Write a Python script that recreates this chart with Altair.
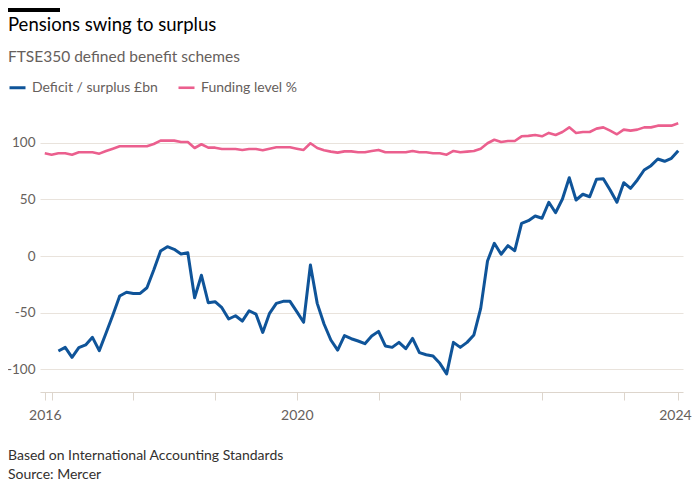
import altair as alt
import pandas as pd

# ---------------- data ----------------
period_index = list(range(94))

deficit_surplus_bn = [
    None, None, -83.8, -80.6, -89.4, -80.9, -78.5, -71.8, -83.5, -68.0,
    -52.0, -35.3, -32.0, -33.0, -33.0, -28.0, -12.4, 4.4, 8.2, 5.9,
    1.8, 2.9, -36.8, -17.0, -41.2, -40.3, -45.6, -55.6, -52.7, -57.4,
    -48.3, -51.2, -67.4, -50.6, -41.8, -40.0, -40.0, -49.1, -58.5, -7.9,
    -41.8, -60.0, -74.1, -83.0, -70.3, -73.0, -75.0, -77.4, -70.6, -66.5,
    -79.4, -80.6, -76.2, -81.8, -72.7, -85.3, -87.1, -88.3, -94.7, -104.0,
    -76.2, -80.6, -76.2, -69.7, -46.2, -4.4, 11.2, 1.5, 9.1, 4.7,
    28.8, 31.2, 35.3, 33.3, 47.4, 38.2, 50.3, 69.1, 49.4, 54.5,
    52.3, 67.7, 68.2, 58.3, 47.4, 64.7, 59.7, 67.1, 75.9, 79.7,
    85.6, 83.6, 86.2, 92.9,
]

funding_level_pct = [
    90.6, 89.4, 90.6, 90.6, 89.4, 91.5, 91.5, 91.5, 90.3, 92.7,
    94.7, 96.8, 96.8, 96.8, 96.8, 96.8, 98.8, 101.8, 101.8, 101.8,
    100.6, 100.6, 95.3, 98.6, 95.6, 95.6, 94.4, 94.4, 94.4, 93.6,
    94.4, 94.4, 93.3, 94.7, 95.9, 95.9, 95.9, 94.7, 93.6, 99.5,
    95.3, 93.3, 92.1, 91.2, 92.3, 92.3, 91.5, 91.5, 92.7, 93.6,
    91.5, 91.5, 91.5, 91.5, 92.7, 91.5, 91.5, 90.6, 90.6, 89.4,
    92.7, 91.5, 92.1, 92.7, 94.7, 99.5, 102.6, 100.6, 101.5, 101.5,
    105.6, 106.0, 106.8, 105.6, 108.6, 106.8, 109.4, 113.5, 108.6, 109.4,
    109.4, 112.4, 113.5, 110.6, 107.4, 111.5, 110.6, 111.5, 113.5, 113.5,
    115.0, 115.0, 115.0, 117.1,
]

series_names = ["Deficit / surplus £bn", "Funding level %"]
series_colors = ["#0f5499", "#eb5f8e"]

x_tick_positions = [0, 1, 13, 25, 37, 49, 61, 73, 85, 93]
x_tick_labels = ["2016", "", "", "", "2020", "", "", "", "", "2024"]
y_ticks = [-100, -50, 0, 50, 100]

title_text = "Pensions swing to surplus"
subtitle_text = "FTSE350 defined benefit schemes"
footer_lines = ["Based on International Accounting Standards", "Source: Mercer"]

# ---------------- build table ----------------
rows = []
for i, v in zip(period_index, deficit_surplus_bn):
    if v is not None:
        rows.append({"i": i, "value": v, "series": series_names[0]})
for i, v in zip(period_index, funding_level_pct):
    if v is not None:
        rows.append({"i": i, "value": v, "series": series_names[1]})
df = pd.DataFrame(rows)

FONT = "Lato"
GRID = "#e9e3dc"
MUTED = "#66605c"

label_expr = " : ".join(
    f"datum.value == {p} ? '{l}'" for p, l in zip(x_tick_positions, x_tick_labels)
) + " : ''"
last_tick = x_tick_positions[-1]

lines = alt.Chart(df).mark_line(strokeJoin="round").encode(
    x=alt.X(
        "i:Q",
        scale=alt.Scale(domain=[-0.7, 93.7], nice=False, zero=False),
        axis=alt.Axis(
            values=x_tick_positions,
            labelExpr=label_expr,
            title=None,
            grid=False,
            domainColor="#ddd5cc",
            tickColor="#ddd5cc",
            tickSize=8,
            labelPadding=8,
            labelFont=FONT,
            labelFontSize=14,
            labelColor=MUTED,
            labelFlush=False,
            labelAlign={"condition": {"test": f"datum.value == {last_tick}", "value": "right"}, "value": "center"},
            labelOffset={"condition": {"test": f"datum.value == {last_tick}", "value": 13}, "value": 0},
        ),
    ),
    y=alt.Y(
        "value:Q",
        scale=alt.Scale(domain=[-120, 120], nice=False),
        axis=alt.Axis(
            values=y_ticks,
            labelExpr="datum.value + ''",
            title=None,
            domain=False,
            ticks=False,
            gridColor=GRID,
            labelPadding=5,
            labelFont=FONT,
            labelFontSize=13.5,
            labelColor=MUTED,
        ),
    ),
    color=alt.Color(
        "series:N",
        scale=alt.Scale(domain=series_names, range=series_colors),
        legend=alt.Legend(
            orient="none",
            legendX=-32,
            legendY=-42,
            direction="horizontal",
            title=None,
            symbolType="stroke",
            symbolSize=256,
            symbolStrokeWidth=3,
            labelFont=FONT,
            labelFontSize=14,
            labelColor=MUTED,
            labelOffset=5,
            columnPadding=15,
        ),
    ),
    strokeWidth=alt.StrokeWidth(
        "series:N",
        scale=alt.Scale(domain=series_names, range=[3, 2.6]),
        legend=None,
    ),
    detail="series:N",
)

top_bar = alt.Chart(pd.DataFrame({"k": [0]})).mark_rule(color="#000000", strokeWidth=4).encode(
    x=alt.value(-32), x2=alt.value(20), y=alt.value(-110)
)

title = alt.Chart(pd.DataFrame({"t": [title_text]})).mark_text(
    align="left", baseline="alphabetic", font=FONT, fontSize=18.5, color="#000000"
).encode(x=alt.value(-32), y=alt.value(-89), text="t:N")

subtitle = alt.Chart(pd.DataFrame({"t": [subtitle_text]})).mark_text(
    align="left", baseline="alphabetic", font=FONT, fontSize=15.5, color=MUTED
).encode(x=alt.value(-32), y=alt.value(-58), text="t:N")

footer1 = alt.Chart(pd.DataFrame({"t": [footer_lines[0]]})).mark_text(
    align="left", baseline="alphabetic", font=FONT, fontSize=14, color="#33302e"
).encode(x=alt.value(-32), y=alt.value(340), text="t:N")

footer2 = alt.Chart(pd.DataFrame({"t": [footer_lines[1]]})).mark_text(
    align="left", baseline="alphabetic", font=FONT, fontSize=14, color="#33302e"
).encode(x=alt.value(-32), y=alt.value(359), text="t:N")

chart = alt.layer(lines, top_bar, title, subtitle, footer1, footer2).properties(
    width=643,
    height=272,
    autosize=alt.AutoSizeParams(type="none"),
    padding={"left": 32, "top": 112, "right": 9, "bottom": 100},
    background="#ffffff",
).configure_view(stroke=None)

chart.save("out.html", embed_options={"renderer": "svg", "actions": False})
